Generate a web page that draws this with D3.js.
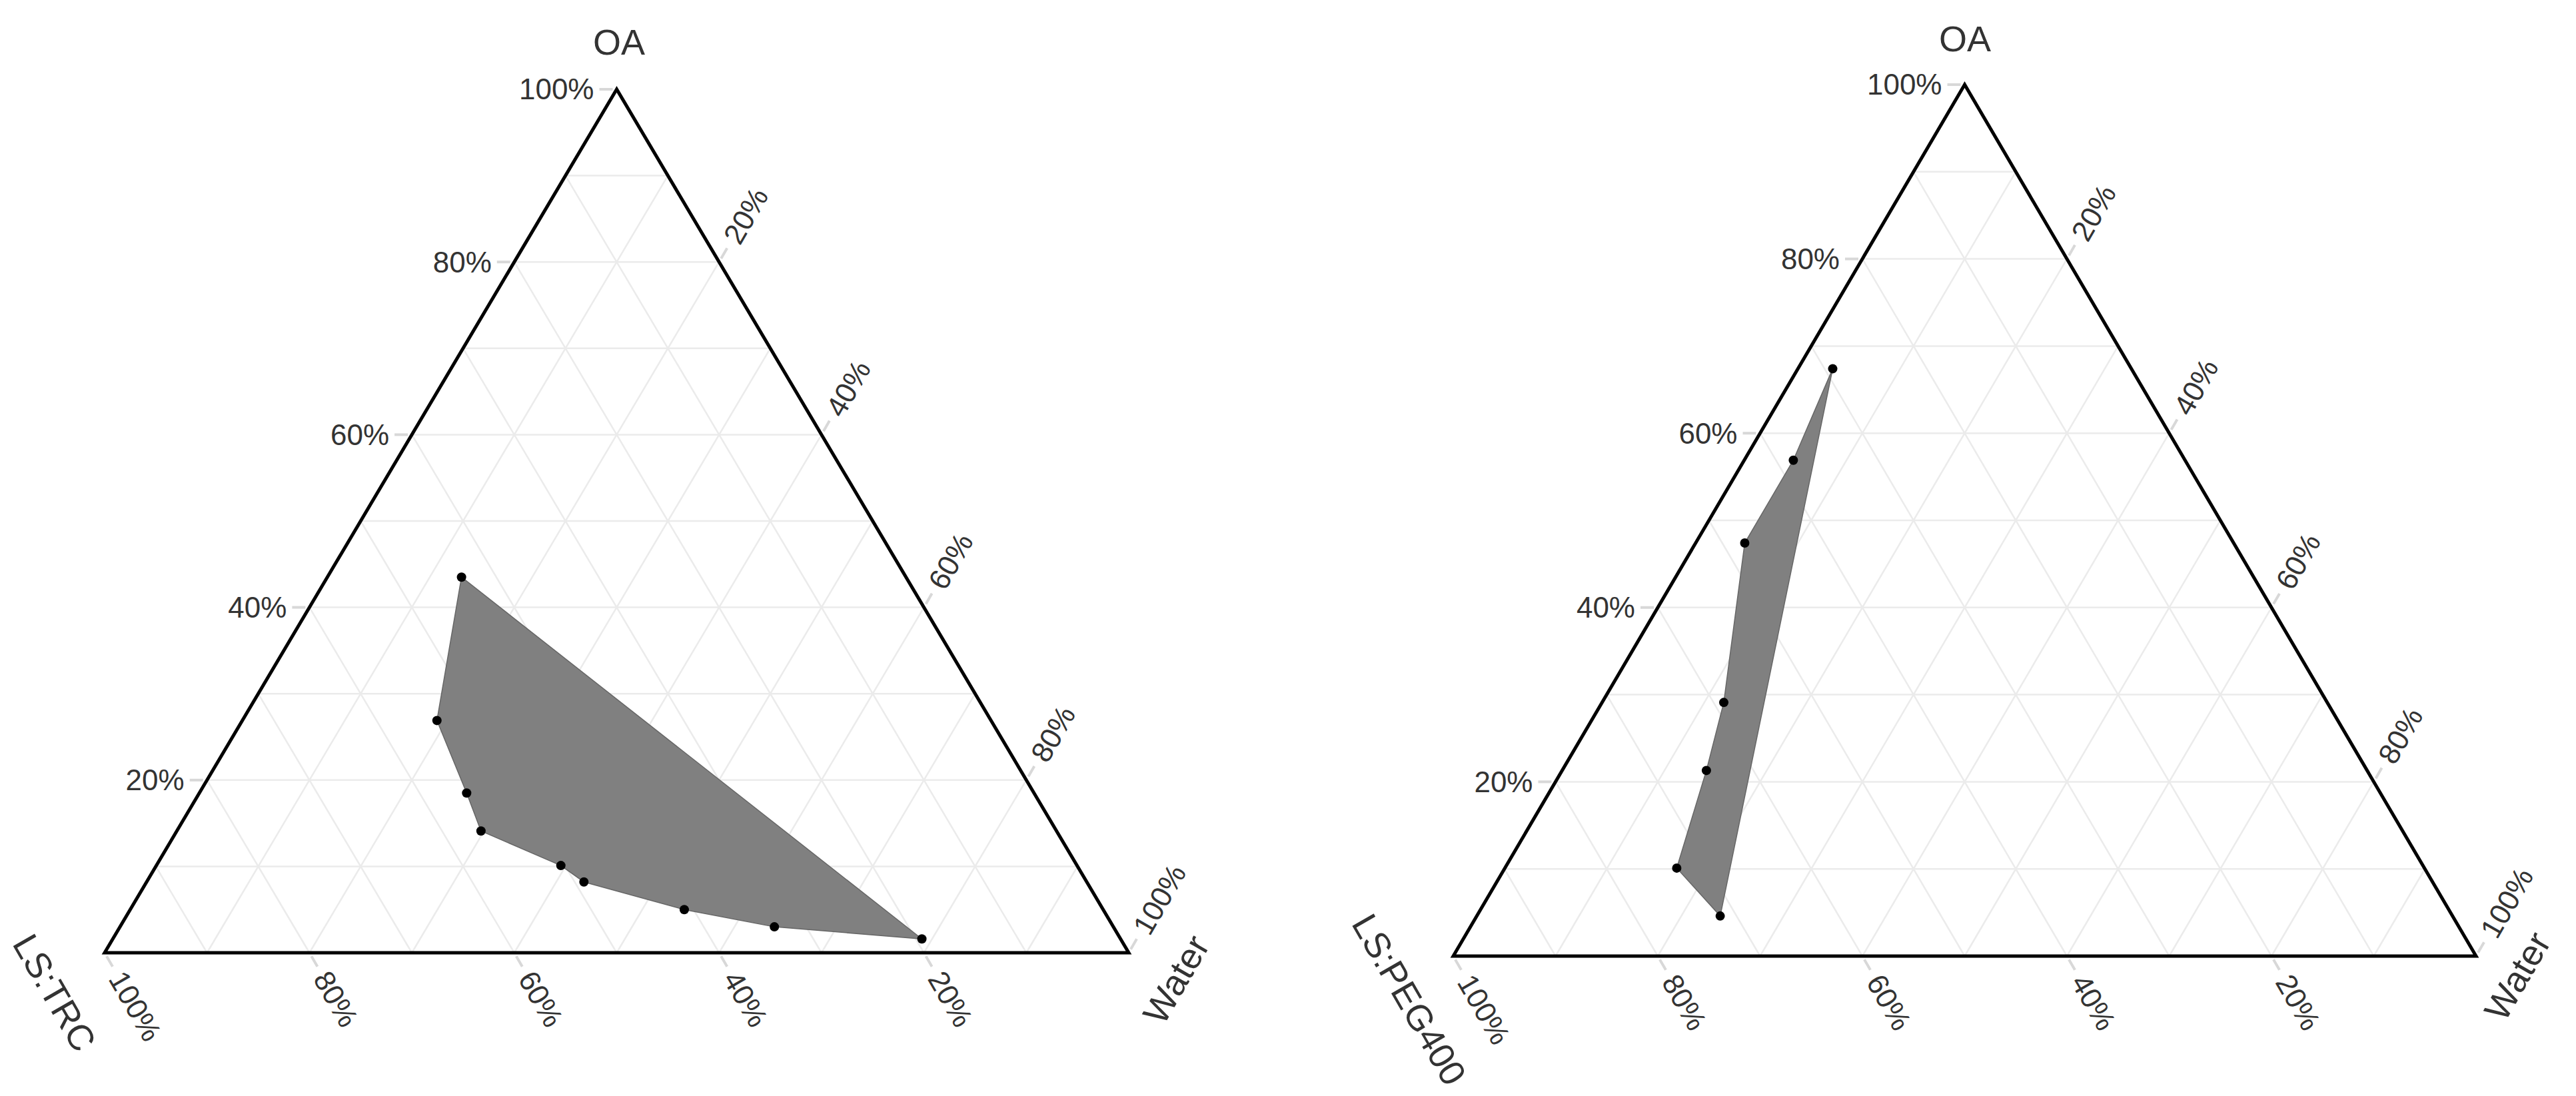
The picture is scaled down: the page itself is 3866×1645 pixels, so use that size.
<!DOCTYPE html>
<html><head><meta charset="utf-8">
<script src="https://cdn.jsdelivr.net/npm/d3@7"></script>
<style>body{margin:0;background:#fff}</style>
</head><body><div id="chart"></div>
<script>
// ternary points: [OA, Water, LS] fractions
const trcOA    = [0.435, 0.269, 0.185, 0.141, 0.101, 0.082, 0.050, 0.030, 0.016];
const trcWater = [0.131, 0.190, 0.261, 0.297, 0.395, 0.427, 0.541, 0.639, 0.790];
const pegOA    = [0.674, 0.569, 0.474, 0.291, 0.213, 0.101, 0.046];
const pegWater = [0.034, 0.048, 0.048, 0.119, 0.141, 0.168, 0.238];
const tickVals = [0.2, 0.4, 0.6, 0.8, 1.0];
const panels = [
  {ls: 'LS:TRC', oa: trcOA, water: trcWater, left: 157, right: 1694, top: 134, base: 1430,
   lsPos: [82, 1490], waterPos: [1765, 1470], oaPos: [929, 63]},
  {ls: 'LS:PEG400', oa: pegOA, water: pegWater, left: 2181, right: 3716, top: 127, base: 1435,
   lsPos: [2115, 1500], waterPos: [3778, 1465], oaPos: [2949, 58]}
];

const W = 3866, H = 1645;
const svg = d3.select('#chart').append('svg').attr('width', W).attr('height', H)
  .style('font-family', '"Liberation Sans", Arial, sans-serif');

panels.forEach(p => {
  const x = d3.scaleLinear().domain([0, 1]).range([p.left, p.right]);
  const y = d3.scaleLinear().domain([0, 1]).range([p.base, p.top]);
  // oa, water -> pixel
  const pt = (oa, w) => [x(w + oa / 2), y(oa)];
  const g = svg.append('g');

  // grid lines every 10%
  const grid = g.append('g').attr('stroke', '#ebebeb').attr('stroke-width', 2.5);
  d3.range(1, 10).map(i => i / 10).forEach(v => {
    grid.append('line').datum([pt(v, 0), pt(v, 1 - v)]);
    grid.append('line').datum([pt(0, v), pt(1 - v, v)]);
    grid.append('line').datum([pt(1 - v, 0), pt(0, 1 - v)]);
  });
  grid.selectAll('line').attr('x1', d => d[0][0]).attr('y1', d => d[0][1])
    .attr('x2', d => d[1][0]).attr('y2', d => d[1][1]);

  // ticks + labels
  const tk = g.append('g').attr('stroke', '#d8d8d8').attr('stroke-width', 4);
  const lab = g.append('g').attr('fill', '#333').attr('font-size', 44);
  const c60 = Math.cos(Math.PI / 3), s60 = Math.sin(Math.PI / 3);
  tickVals.forEach(v => {
    const txt = Math.round(v * 100) + '%';
    let [px, py] = pt(v, 0);
    tk.append('line').attr('x1', px - 6).attr('y1', py).attr('x2', px - 26).attr('y2', py);
    lab.append('text').attr('x', px - 34).attr('y', py).attr('dy', '0.35em')
      .attr('text-anchor', 'end').text(txt);
    [px, py] = pt(1 - v, v);
    tk.append('line').attr('x1', px + 6 * c60).attr('y1', py - 6 * s60)
      .attr('x2', px + 24 * c60).attr('y2', py - 24 * s60);
    lab.append('text').attr('transform', `translate(${px + 36 * c60},${py - 36 * s60}) rotate(-60)`)
      .attr('dy', '0.35em').text(txt);
    [px, py] = pt(0, 1 - v);
    tk.append('line').attr('x1', px + 6 * c60).attr('y1', py + 6 * s60)
      .attr('x2', px + 24 * c60).attr('y2', py + 24 * s60);
    lab.append('text').attr('transform', `translate(${px + 36 * c60},${py + 36 * s60}) rotate(60)`)
      .attr('dy', '0.35em').text(txt);
  });

  // region polygon
  const pts = p.oa.map((o, i) => pt(o, p.water[i]));
  g.append('path').attr('d', d3.line()(pts) + 'Z')
    .attr('fill', '#808080').attr('stroke', '#666').attr('stroke-width', 1.5);
  g.append('g').selectAll('circle').data(pts).join('circle')
    .attr('cx', d => d[0]).attr('cy', d => d[1]).attr('r', 7).attr('fill', '#000');

  // triangle outline
  g.append('path').attr('d', d3.line()([pt(1, 0), pt(0, 0), pt(0, 1)]) + 'Z')
    .attr('fill', 'none').attr('stroke', '#000').attr('stroke-width', 5);

  // corner titles
  const tt = g.append('g').attr('fill', '#333').attr('font-size', 54).attr('text-anchor', 'middle');
  tt.append('text').attr('x', p.oaPos[0]).attr('y', p.oaPos[1]).attr('dy', '0.35em').text('OA');
  tt.append('text').attr('transform', `translate(${p.lsPos[0]},${p.lsPos[1]}) rotate(60)`)
    .attr('dy', '0.35em').text(p.ls);
  tt.append('text').attr('transform', `translate(${p.waterPos[0]},${p.waterPos[1]}) rotate(-60)`)
    .attr('dy', '0.35em').text('Water');
});
</script></body></html>
